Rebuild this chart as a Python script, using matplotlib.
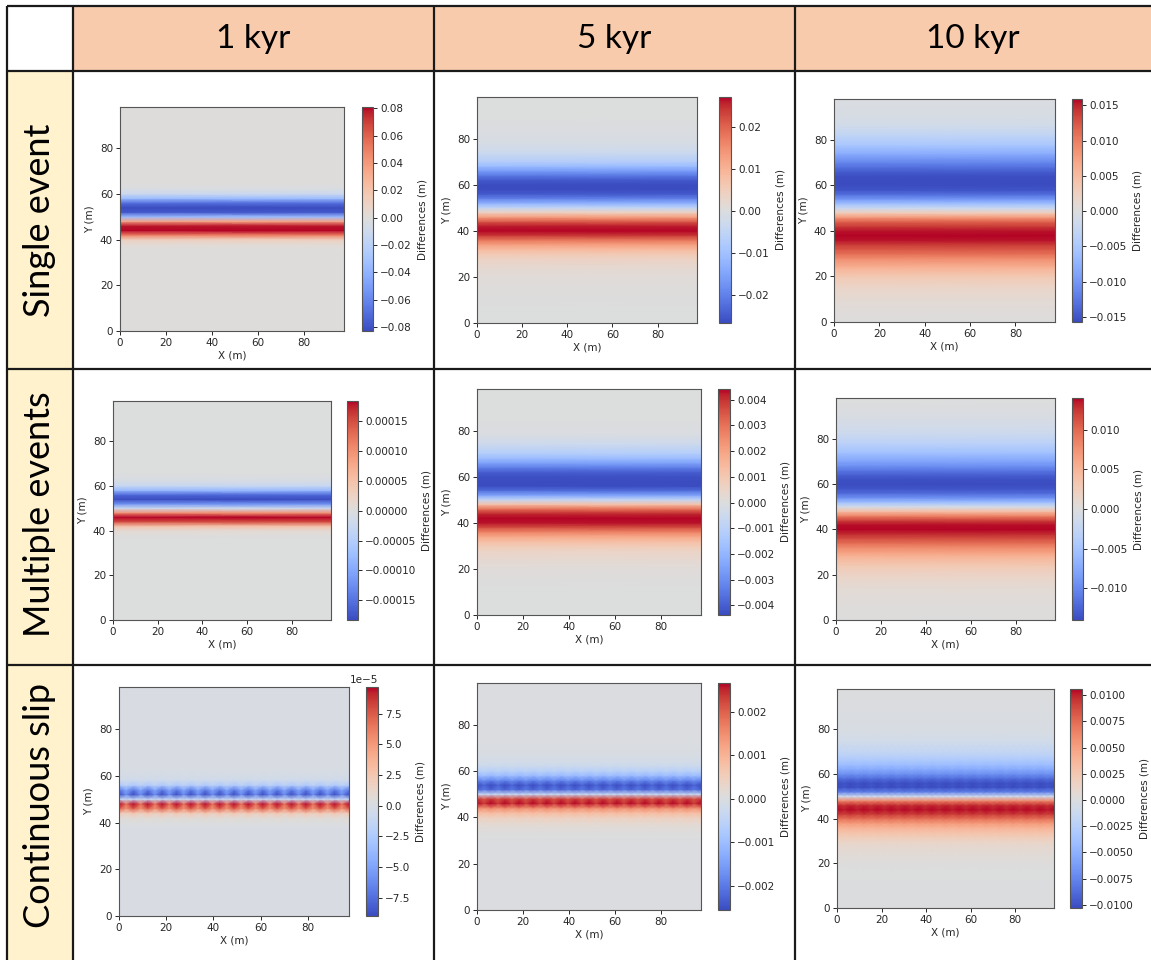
import numpy as np
import matplotlib
matplotlib.use("Agg")
import matplotlib.pyplot as plt
from matplotlib.patches import Rectangle

# time columns and scenario rows of the comparison table
col_titles = ["1 kyr", "5 kyr", "10 kyr"]
row_titles = ["Single event", "Multiple events", "Continuous slip"]

# Y sample positions (m) for the elevation-difference profiles
y_nodes = [0, 5, 10, 15, 20, 24, 28, 30, 32, 34, 36, 38, 40, 42, 44, 46, 48,
           50, 52, 54, 56, 58, 60, 62, 64, 66, 68, 70, 74, 78, 82, 86, 90, 94, 98]
x_max = 97.5
y_max = 98

# differences (m) along Y, one list per scenario / time
single_1kyr = [0, 0, 0, 0, 0, 0, 0, 0, 0, 0, 0, 0.003, 0.012, 0.05, 0.081, 0.078, 0.035,
               -0.035, -0.078, -0.083, -0.07, -0.035, -0.012, -0.004, -0.001, 0, 0, 0,
               0, 0, 0, 0, 0, 0, 0]
single_5kyr = [0, 0, 0.0002, 0.0005, 0.001, 0.002, 0.004, 0.006, 0.009, 0.013, 0.018, 0.024,
               0.0271, 0.026, 0.021, 0.013, 0.004, -0.005, -0.013, -0.02, -0.025, -0.0267,
               -0.0267, -0.025, -0.021, -0.016, -0.011, -0.007, -0.003, -0.0012, -0.0005,
               -0.0002, 0, 0, 0]
single_10kyr = [0.0002, 0.0004, 0.0009, 0.0018, 0.0035, 0.006, 0.009, 0.011, 0.0125, 0.014,
                0.0155, 0.0159, 0.0155, 0.014, 0.012, 0.008, 0.003, -0.002, -0.006, -0.010,
                -0.013, -0.015, -0.0157, -0.0157, -0.0155, -0.0145, -0.013, -0.0115, -0.008,
                -0.005, -0.003, -0.0015, -0.0007, -0.0004, -0.0002]
multi_1kyr = [0, 0, 0, 0, 0, 0, 0, 0, 0, 0, 0, 0.000003, 0.00001, 0.00005, 0.00015, 0.000184,
              0.0001, -0.00002, -0.00012, -0.000183, -0.00016, -0.00008, -0.00003, -0.00001,
              -0.000003, 0, 0, 0, 0, 0, 0, 0, 0, 0, 0]
multi_5kyr = [0, 0, 0, 0.00004, 0.00012, 0.0003, 0.0006, 0.0009, 0.0013, 0.0019, 0.0027,
              0.0036, 0.0043, 0.00442, 0.0041, 0.003, 0.0012, -0.0008, -0.0025, -0.0037,
              -0.00435, -0.00438, -0.0043, -0.004, -0.0033, -0.0025, -0.0018, -0.0012,
              -0.0005, -0.00015, -0.00003, 0, 0, 0, 0]
multi_10kyr = [0.0001, 0.0002, 0.0004, 0.0008, 0.0017, 0.003, 0.005, 0.0065, 0.008, 0.0098,
               0.0115, 0.013, 0.01405, 0.0138, 0.012, 0.0085, 0.004, -0.001, -0.0055, -0.0095,
               -0.012, -0.0135, -0.01405, -0.0138, -0.0128, -0.0112, -0.0095, -0.008, -0.0052,
               -0.0032, -0.0018, -0.001, -0.0005, -0.0002, -0.0001]
cont_1kyr = [0, 0, 0, 0, 0, 0, 0, 0, 0, 0, 0, 0, 3e-6, 8e-6, 2.5e-5, 7.5e-5, 9.68e-5,
             -1.5e-5, -8.99e-5, -7e-5, -2.5e-5, -8e-6, -3e-6, -1e-6, 0, 0, 0, 0, 0, 0, 0,
             0, 0, 0, 0]
cont_5kyr = [0, 0, 0, 0, 0, 0, 0.00001, 0.00002, 0.00004, 0.00008, 0.00015, 0.00028, 0.0005,
             0.0009, 0.0016, 0.00267, 0.0024, -0.0004, -0.0023, -0.00256, -0.0019, -0.0011,
             -0.0006, -0.0003, -0.00015, -0.00008, -0.00004, -0.00002, 0, 0, 0, 0, 0, 0, 0]
cont_10kyr = [0, 0, 0.00005, 0.0001, 0.0002, 0.0005, 0.001, 0.0015, 0.0022, 0.003, 0.004,
              0.0055, 0.0075, 0.0095, 0.0106, 0.0100, 0.0065, -0.001, -0.008, -0.0103,
              -0.0103, -0.0088, -0.007, -0.0055, -0.0042, -0.0032, -0.0024, -0.0018, -0.0009,
              -0.0004, -0.0002, -0.0001, -0.00005, 0, 0]

# alternating along-strike weights for the continuous-slip maps
ripple_1kyr = [1.0, 0.68]
ripple_5kyr = [1.0, 0.88]
ripple_10kyr = [1.0, 0.96]

# colorbar ticks
ticks_single_1kyr = [-0.08, -0.06, -0.04, -0.02, 0.0, 0.02, 0.04, 0.06, 0.08]
ticks_single_5kyr = [-0.02, -0.01, 0.0, 0.01, 0.02]
ticks_single_10kyr = [-0.015, -0.010, -0.005, 0.0, 0.005, 0.010, 0.015]
ticks_multi_1kyr = [-0.00015, -0.00010, -0.00005, 0.0, 0.00005, 0.00010, 0.00015]
ticks_multi_5kyr = [-0.004, -0.003, -0.002, -0.001, 0.0, 0.001, 0.002, 0.003, 0.004]
ticks_multi_10kyr = [-0.010, -0.005, 0.0, 0.005, 0.010]
ticks_cont_1kyr = [-7.5e-5, -5.0e-5, -2.5e-5, 0.0, 2.5e-5, 5.0e-5, 7.5e-5]
ticks_cont_5kyr = [-0.002, -0.001, 0.0, 0.001, 0.002]
ticks_cont_10kyr = [-0.0100, -0.0075, -0.0050, -0.0025, 0.0, 0.0025, 0.0050, 0.0075, 0.0100]
axis_ticks = [0, 20, 40, 60, 80]

W, H = 1151, 960
fig = plt.figure(figsize=(W / 100, H / 100), dpi=100)


def px_rect(l, t, r, b):
    return [l / W, 1 - b / H, (r - l) / W, (b - t) / H]


# table background, cells and grid lines
bg = fig.add_axes([0, 0, 1, 1])
bg.set_xlim(0, W)
bg.set_ylim(H, 0)
bg.axis("off")
bg.add_patch(Rectangle((73, 6), W - 73, 65, fc="#F8CBAD", ec="none"))
bg.add_patch(Rectangle((7, 71), 66, H - 71, fc="#FFF2CC", ec="none"))
line_kw = dict(color="#1a1a1a", lw=1.6, solid_capstyle="butt")
for y in [6, 71, 369, 665]:
    bg.plot([7, W], [y, y], **line_kw)
for x in [7, 73, 434, 795]:
    bg.plot([x, x], [6, H], **line_kw)

head_font = ["Lato", "DejaVu Sans"]
for x, title in zip([253.5, 614.5, 973], col_titles):
    bg.text(x, 39, title, ha="center", va="center", fontsize=24, family=head_font)
for y, title in zip([220, 514, 805], row_titles):
    bg.text(40, y, title, ha="center", va="center", rotation=90, fontsize=26,
            family=head_font)

# pixel boxes (left, top, right, bottom) for each map and its colorbar
ax_boxes = [
    [(120, 107, 344, 331), (477, 97, 697, 323), (834, 99, 1055, 322)],
    [(113, 401, 331, 620), (477, 389, 701, 615), (836, 398, 1055, 620)],
    [(119, 687, 349, 916), (477, 683, 701, 910), (837, 689, 1054, 908)],
]
cb_boxes = [
    [(362, 107, 373, 331), (719, 97, 731, 323), (1072, 99, 1082, 322)],
    [(347, 401, 358, 620), (718, 389, 730, 615), (1072, 398, 1083, 620)],
    [(366, 687, 378, 916), (718, 683, 730, 910), (1070, 689, 1082, 908)],
]
profiles = [
    [single_1kyr, single_5kyr, single_10kyr],
    [multi_1kyr, multi_5kyr, multi_10kyr],
    [cont_1kyr, cont_5kyr, cont_10kyr],
]
cticks = [
    [ticks_single_1kyr, ticks_single_5kyr, ticks_single_10kyr],
    [ticks_multi_1kyr, ticks_multi_5kyr, ticks_multi_10kyr],
    [ticks_cont_1kyr, ticks_cont_5kyr, ticks_cont_10kyr],
]
ripples = [
    [None, None, None],
    [None, None, None],
    [ripple_1kyr, ripple_5kyr, ripple_10kyr],
]

text_color = "#262626"
for i in range(3):
    for j in range(3):
        ax = fig.add_axes(px_rect(*ax_boxes[i][j]))
        if ripples[i][j] is None:
            xs = np.array([0, x_max])
            weights = np.ones(2)
        else:
            xs = np.linspace(0, x_max, 33)
            weights = np.resize(ripples[i][j], xs.size)
        z = np.outer(profiles[i][j], weights)
        mesh = ax.pcolormesh(xs, y_nodes, z, shading="gouraud", cmap="coolwarm")
        ax.set_xlim(0, x_max)
        ax.set_ylim(0, y_max)
        ax.set_xticks(axis_ticks)
        ax.set_yticks(axis_ticks)
        ax.tick_params(labelsize=7.5, length=3, width=0.7, pad=2, colors=text_color)
        ax.set_xlabel("X (m)", fontsize=7.5, labelpad=2, color=text_color)
        ax.set_ylabel("Y (m)", fontsize=7.5, labelpad=4, color=text_color)
        for sp in ax.spines.values():
            sp.set_color("#555555")
            sp.set_linewidth(0.8)

        cax = fig.add_axes(px_rect(*cb_boxes[i][j]))
        cb = fig.colorbar(mesh, cax=cax, ticks=cticks[i][j])
        cb.set_label("Differences (m)", fontsize=7.5, color=text_color, labelpad=4)
        cb.ax.tick_params(labelsize=7.5, length=3, width=0.7, pad=2, colors=text_color)
        cb.ax.yaxis.get_offset_text().set_fontsize(7.5)
        cb.outline.set_linewidth(0.8)
        cb.outline.set_edgecolor("#555555")

fig.savefig("out.png", dpi=100)
